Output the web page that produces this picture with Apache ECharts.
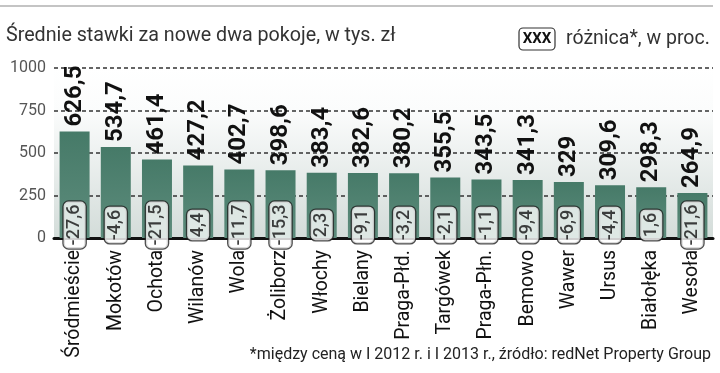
<!DOCTYPE html>
<html><head><meta charset="utf-8">
<script src="https://cdn.jsdelivr.net/npm/echarts@6/dist/echarts.min.js"></script>
<style>html,body{margin:0;padding:0;background:#fff}#c{width:720px;height:373px}</style>
</head><body><div id="c"></div>
<script>
const categories = ['Śródmieście','Mokotów','Ochota','Wilanów','Wola','Żoliborz','Włochy','Bielany','Praga-Płd.','Targówek','Praga-Płn.','Bemowo','Wawer','Ursus','Białołęka','Wesoła'];
const prices = [626.5,534.7,461.4,427.2,402.7,398.6,383.4,382.6,380.2,355.5,343.5,341.3,329,309.6,298.3,264.9];
const diffs = [-27.6,-4.6,-21.5,4.4,-11.7,-15.3,2.3,-9.1,-3.2,-2.1,-1.1,-9.4,-6.9,-4.4,1.6,-21.6];
const yTicks = [0,250,500,750,1000];

const pl = v => String(v).replace('.', ',');
const chart = echarts.init(document.getElementById('c'), null, {renderer:'canvas'});
chart.setOption({
  animation:false,
  grid:{left:54, right:7, top:68, bottom:135, show:true, borderWidth:0,
    backgroundColor:{type:'linear',x:0,y:0,x2:0,y2:1,colorStops:[{offset:0,color:'#ffffff'},{offset:0.25,color:'#fbfcfc'},{offset:1,color:'#d3dcd9'}]}},
  graphic:[
    {type:'line', shape:{x1:0,y1:6,x2:713,y2:6}, style:{stroke:'#b0b0b0', lineWidth:1.5}},
    {type:'text', left:6, top:26, style:{text:'Średnie stawki za nowe dwa pokoje, w tys. zł', font:'19.7px Roboto', fill:'#333'}},
    {type:'rect', shape:{x:519,y:28,width:36,height:22,r:4}, style:{fill:'#fff', stroke:'#333', lineWidth:1.2}},
    {type:'text', x:537, y:39.5, style:{text:'XXX', font:'bold 15px Roboto', fill:'#111', align:'center', verticalAlign:'middle'}},
    {type:'text', x:566, y:39, style:{text:'różnica*, w proc.', font:'19.5px Roboto', fill:'#333', verticalAlign:'middle'}},
    {type:'text', x:711, y:355, style:{text:'*między ceną w I 2012 r. i I 2013 r., źródło: redNet Property Group', font:'16px Roboto', fill:'#222', align:'right', verticalAlign:'middle'}}
  ],
  xAxis:{type:'category', data:categories,
    axisLine:{lineStyle:{color:'#111', width:3}}, axisTick:{show:false},
    axisLabel:{rotate:90, margin:12, fontSize:19.5, fontFamily:'Roboto', color:'#111', interval:0}},
  yAxis:{type:'value', min:0, max:1000, interval:250,
    axisLine:{show:false}, axisTick:{show:false},
    axisLabel:{fontSize:16, fontFamily:'Roboto', color:'#555', margin:8, formatter:v=>yTicks.includes(v)?String(v):''},
    splitLine:{lineStyle:{color:'#333', width:1.5, type:[4,3]}}},
  series:[
    {type:'bar', data:prices, barWidth:30, z:2,
      itemStyle:{color:{type:'linear',x:0,y:0,x2:0,y2:1,colorStops:[{offset:0,color:'#467a68'},{offset:1,color:'#5d8c7c'}]}},
      label:{show:true, position:'top', rotate:90, align:'left', verticalAlign:'middle', distance:5,
        fontFamily:'Roboto', fontWeight:'bold', fontSize:24, color:'#111', formatter:p=>pl(p.value)}},
    {type:'scatter', data:diffs.map((d,i)=>[i,0,d]), symbolSize:0, z:5,
      label:{show:true, position:'inside', rotate:90, offset:[13,0], align:'center', verticalAlign:'middle',
        backgroundColor:'#fff', borderColor:'#222', borderWidth:1.3, borderRadius:5, padding:[2,3],
        fontFamily:'Roboto', fontSize:18, fontWeight:500, lineHeight:18, color:'#111', formatter:p=>pl(p.value[2])}}
  ]
});
</script></body></html>
